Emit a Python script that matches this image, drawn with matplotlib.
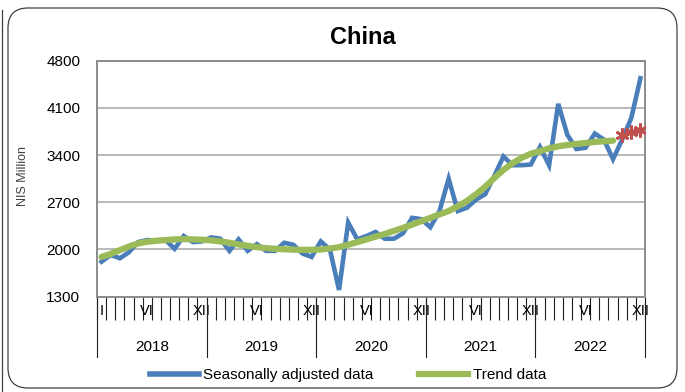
import matplotlib
matplotlib.use('Agg')
import matplotlib.pyplot as plt
from matplotlib import font_manager
from matplotlib.patches import FancyBboxPatch
from matplotlib.lines import Line2D
import matplotlib.transforms as mtransforms

names = {f.name for f in font_manager.fontManager.ttflist}
plt.rcParams['font.family'] = 'Liberation Sans' if 'Liberation Sans' in names else 'DejaVu Sans'

# monthly data, Jan 2018 - Dec 2022 (NIS million)
years = ['2018', '2019', '2020', '2021', '2022']
month_labels = ['I', '', '', '', '', 'VI', '', '', '', '', '', 'XII']
seasonal = [1820, 1920, 1870, 1960, 2110, 2140, 2130, 2140, 2010, 2200, 2110, 2120,
            2180, 2160, 1980, 2150, 1980, 2080, 1980, 1980, 2100, 2070, 1940, 1890,
            2120, 2000, 1400, 2400, 2150, 2200, 2260, 2160, 2160, 2240, 2470, 2450,
            2330, 2570, 3050, 2570, 2620, 2740, 2820, 3090, 3380, 3250, 3250, 3260,
            3520, 3250, 4160, 3700, 3490, 3510, 3720, 3630, 3340, 3630, 3950, 4540]
trend = [1890, 1935, 1990, 2045, 2090, 2115, 2130, 2140, 2150, 2155, 2150, 2145,
         2135, 2120, 2100, 2075, 2055, 2035, 2020, 2010, 2003, 1998, 1995, 1995,
         2000, 2015, 2035, 2070, 2110, 2150, 2190, 2230, 2275, 2320, 2370, 2420,
         2470, 2520, 2570, 2640, 2720, 2820, 2930, 3060, 3180, 3280, 3360, 3420,
         3460, 3500, 3530, 3550, 3565, 3580, 3595, 3605, 3615]
trend_forecast = [3695, 3745, 3775]
yticks = [1300, 2000, 2700, 3400, 4100, 4800]

blue = '#4A7EBB'
green = '#9BBB59'
red = '#C0504D'

fig = plt.figure(figsize=(6.85, 3.92), dpi=100)
W, H = 685.0, 392.0

# chart area frame
frame = FancyBboxPatch((0.08, 0.04), 6.69, 3.80, boxstyle='round,pad=0,rounding_size=0.2',
                       transform=fig.dpi_scale_trans, facecolor='none', edgecolor='#404040',
                       linewidth=0.9, zorder=-1)
fig.patches.append(frame)
fig.add_artist(Line2D([1.5 / W, 1.5 / W], [0, 1 - 10 / H], color='#404040', lw=0.9))

ax = fig.add_axes([97 / W, 1 - 296.7 / H, (645 - 97) / W, (296.7 - 60.7) / H])

n = len(seasonal)
x = list(range(n))
ax.plot(x, seasonal, color=blue, lw=3.3, solid_joinstyle='miter', zorder=3)
ax.plot(x[:len(trend)], trend, color=green, lw=4.5, solid_capstyle='round', zorder=4)
xf = x[len(trend):]
ax.plot(xf, trend_forecast, linestyle='none', marker=(6, 2, 0), markersize=10,
        markeredgewidth=2.0, color=red, zorder=5)

ax.set_xlim(-0.5, n - 0.5)
ax.set_ylim(yticks[0], yticks[-1])
ax.set_yticks(yticks)
ax.set_yticklabels([str(v) for v in yticks], fontsize=11)
ax.tick_params(axis='y', length=0, pad=12)
ax.yaxis.grid(True, color='#A6A6A6', lw=1.1)
ax.set_axisbelow(True)
for s in ax.spines.values():
    s.set_color('#8C8C8C')
    s.set_linewidth(1.4)

# month ticks between categories, labels in the middle (only the labelled months)
ax.set_xticks([i - 0.5 for i in range(n + 1)])
ax.set_xticklabels([])
ax.tick_params(axis='x', which='major', length=16.5, width=0.8, color='#202020', direction='out')
lab_pos = [i for i in x if month_labels[i % 12] and (i % 12 != 0 or i == 0)]
ax.set_xticks(lab_pos, minor=True)
ax.set_xticklabels([month_labels[i % 12] for i in lab_pos], minor=True, fontsize=10.5)
ax.tick_params(axis='x', which='minor', length=0, pad=5)

trans = mtransforms.blended_transform_factory(ax.transData, ax.transAxes)
for k in range(len(years) + 1):
    xb = k * 12 - 0.5
    ax.plot([xb, xb], [0, -0.255], transform=trans, color='#202020', lw=0.8, clip_on=False)
for k, yr in enumerate(years):
    ax.text(k * 12 + 5.5, -0.213, yr, transform=trans, ha='center', va='center', fontsize=11)

ax.set_ylabel('NIS Million', fontsize=9, color='#404040')
ax.yaxis.set_label_coords(-0.125, 0.51)
fig.text(363 / W, 1 - 38 / H, 'China', ha='center', va='center', fontsize=17, fontweight='bold')

handles = [Line2D([], [], color=blue, lw=4), Line2D([], [], color=green, lw=4.5)]
fig.legend(handles, ['Seasonally adjusted data', 'Trend data'], loc='center',
           bbox_to_anchor=(348 / W, 1 - 375 / H), ncol=2, frameon=False, fontsize=11,
           handlelength=3.2, handletextpad=0.3, columnspacing=3.0)

fig.savefig('out.png', dpi=100)
